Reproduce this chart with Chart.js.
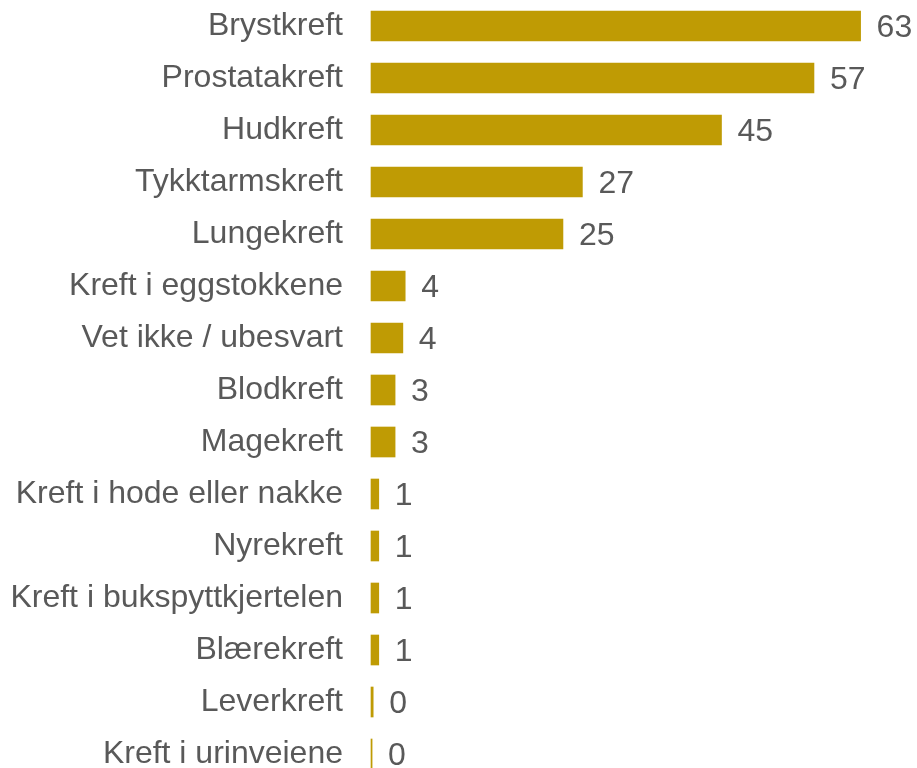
<!DOCTYPE html>
<html>
<head>
<meta charset="utf-8">
<script src="https://cdn.jsdelivr.net/npm/chart.js@4"></script>
<style>
  html, body { margin: 0; padding: 0; background: #fff; }
  #wrap { width: 917px; height: 768px; }
</style>
</head>
<body>
<div id="wrap"><canvas id="grafikk"></canvas></div>
<script>
const kategorier = ['Brystkreft', 'Prostatakreft', 'Hudkreft', 'Tykktarmskreft', 'Lungekreft',
    'Kreft i eggstokkene', 'Vet ikke / ubesvart', 'Blodkreft', 'Magekreft',
    'Kreft i hode eller nakke', 'Nyrekreft', 'Kreft i bukspyttkjertelen', 'Blærekreft',
    'Leverkreft', 'Kreft i urinveiene'];

// andel (%) lest av figuren
const verdier = [63, 57, 45.1, 27.2, 24.7, 4.4, 4.1, 3.1, 3.1, 1, 1, 1, 1, 0.28, 0.14];

const gull = '#bf9b04';
const tekstFarge = '#595959';
const skrift = 'Arial, "Liberation Sans", sans-serif';

// tegner tallet etter hver stolpe
const verdiEtiketter = {
    id: 'verdiEtiketter',
    afterDatasetsDraw(chart) {
        const ctx = chart.ctx;
        const meta = chart.getDatasetMeta(0);
        ctx.save();
        ctx.font = '32px ' + skrift;
        ctx.fillStyle = tekstFarge;
        ctx.textAlign = 'left';
        ctx.textBaseline = 'middle';
        meta.data.forEach((bar, i) => {
            ctx.fillText(String(Math.round(verdier[i])), bar.x + 16, bar.y + 2);
        });
        ctx.restore();
    }
};

new Chart(document.getElementById('grafikk'), {
    type: 'bar',
    data: {
        labels: kategorier,
        datasets: [{
            data: verdier,
            backgroundColor: gull,
            borderWidth: 0,
            barThickness: 30,
            clip: false
        }]
    },
    options: {
        indexAxis: 'y',
        responsive: true,
        maintainAspectRatio: false,
        animation: false,
        layout: { padding: { top: 26, bottom: 14, left: 0, right: 2 } },
        plugins: {
            legend: { display: false },
            tooltip: { enabled: false }
        },
        scales: {
            x: {
                display: false,
                min: 0,
                max: 70
            },
            y: {
                offset: false,
                grid: { display: false, drawTicks: false },
                border: { display: false },
                ticks: {
                    color: tekstFarge,
                    font: { family: skrift, size: 32 },
                    padding: 28,
                    autoSkip: false
                },
                afterFit(scale) {
                    scale.width = 371;
                    scale.paddingTop = 0;
                    scale.paddingBottom = 0;
                }
            }
        }
    },
    plugins: [verdiEtiketter]
});
</script>
</body>
</html>
